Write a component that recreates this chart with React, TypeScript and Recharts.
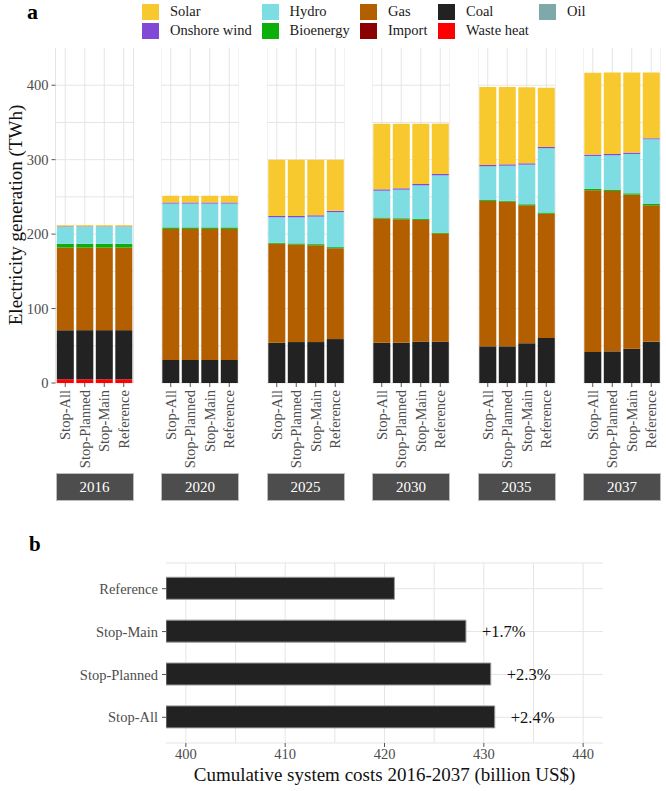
import { BarChart, Bar, XAxis, YAxis, CartesianGrid, LabelList } from 'recharts';

const FONT = '"Liberation Serif", "Times New Roman", serif';

const YEARS = ['2016', '2020', '2025', '2030', '2035', '2037'];
const SCENARIOS = ['Stop-All', 'Stop-Planned', 'Stop-Main', 'Reference'];

// TWh, 4 scenarios per year in SCENARIOS order, years in YEARS order
const OIL = [
  0, 0, 0, 0, 0, 0, 0, 0, 0, 0, 0, 0,
  0, 0, 0, 0, 0, 0, 0, 0, 0, 0, 0, 0,
];
const WASTE_HEAT = [
  5, 5, 5, 5, 0, 0, 0, 0, 0, 0, 0, 0,
  0, 0, 0, 0, 0, 0, 0, 0, 0, 0, 0, 0,
];
const COAL = [
  66, 66, 66, 66, 31, 31, 31, 31, 54, 55, 55, 59,
  54, 54, 55.5, 55.5, 49.3, 49.3, 53.4, 60.5, 41.7, 42.5, 46.1, 55.3,
];
const IMPORT = [
  0, 0, 0, 0, 0, 0, 0, 0, 0, 0, 0, 0,
  0, 0, 0, 0, 0, 0, 0, 0, 0, 0, 0, 0,
];
const GAS = [
  111, 111, 111, 111, 176, 176, 176, 176, 133, 131, 130, 122,
  167, 166, 163.6, 145.2, 195.1, 194.2, 185.3, 167, 217.2, 215.5, 206.9, 183.4,
];
const BIOENERGY = [
  5, 5, 5, 5, 2, 2, 2, 2, 1.5, 1.5, 1.5, 1.5,
  1.3, 1.3, 1.3, 1.3, 1.3, 1.3, 1.4, 1.4, 1.8, 1.8, 1.8, 1.8,
];
const HYDRO = [
  23, 23, 23, 23, 32, 32, 32, 32, 34, 35, 37, 47,
  36, 38.4, 45.1, 77, 45.4, 47.1, 53.2, 86.4, 44.3, 46.1, 52.9, 86.9,
];
const ONSHORE_WIND = [
  0.5, 0.5, 0.5, 0.5, 1.5, 1.5, 1.5, 1.5, 1.8, 1.8, 1.8, 1.8,
  1.8, 1.8, 1.8, 1.8, 1.8, 1.8, 1.8, 1.8, 1.8, 1.8, 1.8, 1.3,
];
const SOLAR = [
  1.5, 1.5, 1.5, 1.5, 9, 9, 9, 9, 75.7, 75.6, 74.7, 68.7,
  88.3, 86.9, 81.1, 67.6, 104.7, 103.9, 102.1, 79.6, 110.1, 109.3, 107.5, 88.3,
];

// panel b
const COST_SCENARIOS = ['Reference', 'Stop-Main', 'Stop-Planned', 'Stop-All'];
const COSTS = [421.0, 428.2, 430.7, 431.1];
const COST_LABELS = ['', '+1.7%', '+2.3%', '+2.4%'];

// stacking order: bottom first
const SOURCES = [
  { key: 'oil', name: 'Oil', color: '#7fa8a8', values: OIL },
  { key: 'waste', name: 'Waste heat', color: '#ff0000', values: WASTE_HEAT },
  { key: 'coal', name: 'Coal', color: '#222222', values: COAL },
  { key: 'import', name: 'Import', color: '#8b0000', values: IMPORT },
  { key: 'gas', name: 'Gas', color: '#b35f00', values: GAS },
  { key: 'bio', name: 'Bioenergy', color: '#0aaf0a', values: BIOENERGY },
  { key: 'hydro', name: 'Hydro', color: '#7edde3', values: HYDRO },
  { key: 'wind', name: 'Onshore wind', color: '#8149d6', values: ONSHORE_WIND },
  { key: 'solar', name: 'Solar', color: '#f8c92e', values: SOLAR },
];

const LEGEND_ROWS = [
  ['Solar', 'Hydro', 'Gas', 'Coal', 'Oil'],
  ['Onshore wind', 'Bioenergy', 'Import', 'Waste heat'],
];
const LEGEND_X = [142, 261.5, 360, 438, 539];

const FACET_LEFT = 55.5;
const FACET_STEP = 105.5;
const FACET_W = 78;
const Y_AXIS_W = 55.5;

const ScenarioTick = ({ x, y, payload }: any) => (
  <text
    x={0}
    y={0}
    transform={`translate(${x},${y + 1}) rotate(-90)`}
    textAnchor="end"
    dy="0.33em"
    fill="#4d4d4d"
    fontSize={14.5}
    fontFamily={FONT}
  >
    {payload.value}
  </text>
);

const PctLabel = ({ x, y, width, height, value }: any) => {
  if (!value) return null;
  return (
    <text x={x + width + 16} y={y + height / 2} dy="0.35em" fill="#111" fontSize={16.5} fontFamily={FONT}>
      {value}
    </text>
  );
};

const Facet = ({ yi }: { yi: number }) => {
  const first = yi === 0;
  const yW = first ? Y_AXIS_W : 0;
  const data = SCENARIOS.map((scenario, si) => {
    const row: Record<string, string | number> = { scenario };
    SOURCES.forEach((src) => {
      row[src.key] = src.values[yi * 4 + si];
    });
    return row;
  });
  const left = FACET_LEFT + yi * FACET_STEP;
  return (
    <div style={{ position: 'absolute', left: left - yW, top: 0 }}>
      <BarChart
        width={FACET_W + yW}
        height={475}
        data={data}
        margin={{ top: 48, right: 0, bottom: 0, left: 0 }}
        barCategoryGap={1.3}
      >
        <CartesianGrid stroke="#e5e5e5" horizontalValues={[0, 50, 100, 150, 200, 250, 300, 350, 400]} />
        <XAxis
          dataKey="scenario"
          interval={0}
          height={92}
          axisLine={false}
          tickLine={{ stroke: '#555' }}
          tickSize={4}
          tick={<ScenarioTick />}
        />
        <YAxis
          hide={!first}
          width={yW || 60}
          domain={[0, 450]}
          ticks={[0, 100, 200, 300, 400]}
          axisLine={false}
          tickLine={{ stroke: '#555' }}
          tickSize={4}
          tickMargin={3}
          tick={{ fill: '#4d4d4d', fontSize: 14.5, fontFamily: FONT }}
        />
        {SOURCES.map((src) => (
          <Bar key={src.key} dataKey={src.key} name={src.name} stackId="gen" fill={src.color} isAnimationActive={false} />
        ))}
      </BarChart>
      <div
        style={{
          position: 'absolute',
          left: yW,
          top: 473,
          width: FACET_W,
          height: 28,
          boxSizing: 'border-box',
          background: '#4d4d4d',
          border: '1px solid #bdbdbd',
          color: '#fff',
          fontSize: 15,
          fontFamily: FONT,
          lineHeight: '26px',
          textAlign: 'center',
        }}
      >
        {YEARS[yi]}
      </div>
    </div>
  );
};

export default function App() {
  const costData = COST_SCENARIOS.map((scenario, i) => ({
    scenario,
    cost: COSTS[i],
    label: COST_LABELS[i],
  }));
  const colorOf = (name: string) => SOURCES.find((s) => s.name === name)?.color;

  return (
    <div style={{ position: 'relative', width: 666, height: 791, fontFamily: FONT, background: '#fff', overflow: 'hidden' }}>
      <style>{'body{margin:0}'}</style>

      <div style={{ position: 'absolute', left: 27, top: -1, fontSize: 22, fontWeight: 'bold' }}>a</div>

      {LEGEND_ROWS.map((row, ri) =>
        row.map((name, ci) => (
          <div key={name} style={{ position: 'absolute', left: LEGEND_X[ci], top: 3 + ri * 19, height: 17, display: 'flex', alignItems: 'center' }}>
            <div style={{ width: 17, height: 16, background: colorOf(name) }} />
            <span style={{ marginLeft: 11, fontSize: 14.5, color: '#1a1a1a', whiteSpace: 'nowrap' }}>{name}</span>
          </div>
        ))
      )}

      <div
        style={{
          position: 'absolute',
          left: 16,
          top: 215,
          transform: 'translate(-50%, -50%) rotate(-90deg)',
          fontSize: 19,
          whiteSpace: 'nowrap',
          color: '#111',
        }}
      >
        Electricity generation (TWh)
      </div>

      {YEARS.map((_, yi) => (
        <Facet key={yi} yi={yi} />
      ))}

      <div style={{ position: 'absolute', left: 29, top: 532, fontSize: 21, fontWeight: 'bold' }}>b</div>

      <div style={{ position: 'absolute', left: 0, top: 540 }}>
        <BarChart
          layout="vertical"
          width={666}
          height={251}
          data={costData}
          margin={{ top: 23, right: 63, bottom: 26, left: 0 }}
        >
          <CartesianGrid stroke="#e5e5e5" verticalValues={[400, 405, 410, 415, 420, 425, 430, 435, 440]} />
          <XAxis
            type="number"
            domain={[398, 442]}
            allowDataOverflow
            ticks={[400, 410, 420, 430, 440]}
            height={22}
            axisLine={false}
            tickLine={{ stroke: '#555' }}
            tickSize={4}
            tickMargin={2}
            tick={{ fill: '#4d4d4d', fontSize: 14.5, fontFamily: FONT }}
          />
          <YAxis
            type="category"
            dataKey="scenario"
            width={166}
            padding={{ top: 4.25, bottom: 4.25 }}
            axisLine={false}
            tickLine={{ stroke: '#555' }}
            tickSize={4}
            tickMargin={4}
            tick={{ fill: '#4d4d4d', fontSize: 14.5, fontFamily: FONT }}
          />
          <Bar dataKey="cost" fill="#222222" stroke="#9a9a9a" strokeWidth={1} barSize={22} isAnimationActive={false}>
            <LabelList dataKey="label" content={<PctLabel />} />
          </Bar>
        </BarChart>
      </div>

      <div
        style={{
          position: 'absolute',
          left: 384.5,
          top: 775,
          transform: 'translate(-50%, -50%)',
          fontSize: 19,
          whiteSpace: 'nowrap',
          color: '#111',
        }}
      >
        Cumulative system costs 2016-2037 (billion US$)
      </div>
    </div>
  );
}
